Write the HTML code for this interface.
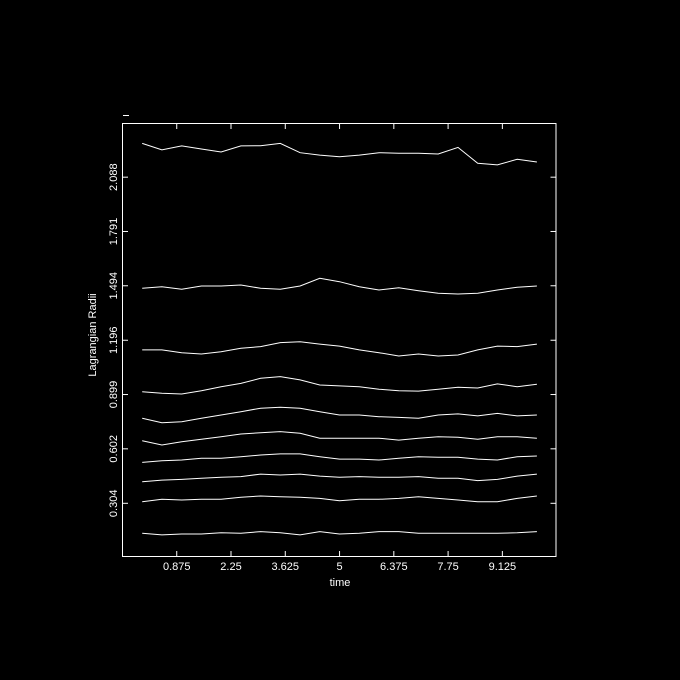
<!DOCTYPE html>
<html><head><meta charset="utf-8"><style>
html,body{margin:0;padding:0;background:#000;}
svg{display:block;}
text{font-family:"Liberation Sans",sans-serif;font-size:11px;fill:#fff;}
</style></head><body>
<svg id="chart" width="680" height="680" viewBox="0 0 680 680">
<rect x="0" y="0" width="680" height="680" fill="#000"/>
<line x1="123" y1="115.5" x2="129" y2="115.5" stroke="#fff" stroke-width="1"/>
<rect x="122.5" y="123.5" width="433.5" height="433" fill="none" stroke="#fff" stroke-width="1"/>
<g id="ticks"></g>
<g id="series"></g>
<text x="340" y="586" text-anchor="middle">time</text>
<text x="0" y="0" text-anchor="middle" transform="translate(96,335) rotate(-90)">Lagrangian Radii</text>
</svg>
<script>
const xTicks = [0.875, 2.25, 3.625, 5, 6.375, 7.75, 9.125];
const xTickLabels = ["0.875", "2.25", "3.625", "5", "6.375", "7.75", "9.125"];
const yTicks = [0.304, 0.602, 0.899, 1.196, 1.494, 1.791, 2.088];
const yTickLabels = ["0.304", "0.602", "0.899", "1.196", "1.494", "1.791", "2.088"];
const times = [0,0.5,1,1.5,2,2.5,3,3.5,4,4.5,5,5.5,6,6.5,7,7.5,8,8.5,9,9.5,10];
const r1 = [2.273,2.237,2.259,2.242,2.226,2.259,2.260,2.273,2.222,2.209,2.200,2.209,2.222,2.219,2.219,2.215,2.251,2.164,2.155,2.186,2.171];
const r2 = [1.480,1.489,1.475,1.493,1.493,1.498,1.480,1.475,1.493,1.535,1.516,1.489,1.471,1.483,1.467,1.453,1.449,1.453,1.471,1.486,1.493];
const r3 = [1.143,1.143,1.128,1.121,1.133,1.152,1.161,1.183,1.188,1.175,1.164,1.143,1.128,1.110,1.121,1.110,1.115,1.143,1.164,1.161,1.175];
const r4 = [0.914,0.906,0.902,0.920,0.942,0.960,0.988,0.997,0.979,0.951,0.946,0.942,0.928,0.920,0.918,0.928,0.939,0.935,0.957,0.942,0.955];
const r5 = [0.769,0.745,0.750,0.769,0.787,0.805,0.824,0.829,0.824,0.805,0.787,0.787,0.778,0.774,0.769,0.787,0.793,0.782,0.796,0.782,0.787];
const r6 = [0.646,0.623,0.641,0.654,0.668,0.683,0.690,0.696,0.687,0.660,0.660,0.660,0.660,0.650,0.660,0.668,0.665,0.654,0.668,0.668,0.660];
const r7 = [0.528,0.537,0.541,0.550,0.550,0.559,0.568,0.574,0.574,0.559,0.546,0.546,0.541,0.550,0.559,0.556,0.556,0.546,0.541,0.559,0.563];
const r8 = [0.422,0.431,0.435,0.441,0.446,0.450,0.464,0.459,0.464,0.453,0.446,0.450,0.446,0.446,0.450,0.441,0.441,0.428,0.435,0.453,0.464];
const r9 = [0.313,0.326,0.322,0.326,0.326,0.337,0.344,0.340,0.337,0.331,0.318,0.326,0.326,0.331,0.340,0.331,0.322,0.313,0.313,0.331,0.344];
const r10 = [0.140,0.131,0.136,0.136,0.143,0.140,0.149,0.143,0.131,0.149,0.136,0.140,0.149,0.149,0.140,0.140,0.140,0.140,0.140,0.143,0.149];
const allSeries = [r1,r2,r3,r4,r5,r6,r7,r8,r9,r10];

const NS = "http://www.w3.org/2000/svg";
function xs(t){ return 142.2 + 39.47*t; }
function ys(v){ return 503.3 - (v-0.304)*182.8; }

const tg = document.getElementById('ticks');
const svg = document.getElementById('chart');
xTicks.forEach((t,i)=>{
  const x = xs(t);
  const b = document.createElementNS(NS,'line');
  b.setAttribute('x1',x);b.setAttribute('x2',x);b.setAttribute('y1',556.5);b.setAttribute('y2',551);
  b.setAttribute('stroke','#fff');
  
  
  tg.appendChild(b);
  const tp = document.createElementNS(NS,'line');
  tp.setAttribute('x1',x);tp.setAttribute('x2',x);tp.setAttribute('y1',123.5);tp.setAttribute('y2',129);
  tp.setAttribute('stroke','#fff');
  
  
  tg.appendChild(tp);
  const lb = document.createElementNS(NS,'text');
  lb.setAttribute('x',x);lb.setAttribute('y',570);lb.setAttribute('text-anchor','middle');
  lb.textContent = xTickLabels[i];
  
  
  svg.appendChild(lb);
});
yTicks.forEach((v,i)=>{
  const y = ys(v);
  const l = document.createElementNS(NS,'line');
  l.setAttribute('x1',122.5);l.setAttribute('x2',128);l.setAttribute('y1',y);l.setAttribute('y2',y);
  l.setAttribute('stroke','#fff');
  
  
  tg.appendChild(l);
  const r = document.createElementNS(NS,'line');
  r.setAttribute('x1',556);r.setAttribute('x2',550.5);r.setAttribute('y1',y);r.setAttribute('y2',y);
  r.setAttribute('stroke','#fff');
  
  
  tg.appendChild(r);
  const lb = document.createElementNS(NS,'text');
  lb.setAttribute('x',0);lb.setAttribute('y',0);lb.setAttribute('text-anchor','middle');
  lb.setAttribute('transform','translate(117,'+y+') rotate(-90)');
  lb.textContent = yTickLabels[i];
  
  
  svg.appendChild(lb);
});
const sg = document.getElementById('series');
allSeries.forEach((s,j)=>{
  const p = document.createElementNS(NS,'polyline');
  p.setAttribute('points', s.map((v,i)=>xs(times[i]).toFixed(1)+','+ys(v).toFixed(1)).join(' '));
  p.setAttribute('fill','none');p.setAttribute('stroke','#fff');p.setAttribute('stroke-width','1');
  
  
  sg.appendChild(p);
});
</script>
</body></html>
